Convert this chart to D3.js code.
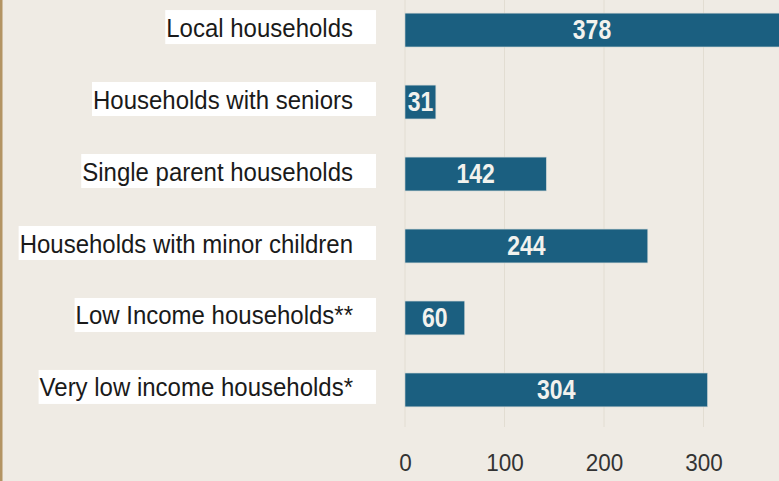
<!DOCTYPE html>
<html>
<head>
<meta charset="utf-8">
<script src="https://cdn.jsdelivr.net/npm/d3@7"></script>
<style>
  body { margin: 0; background: #efebe4; }
  svg { display: block; }
</style>
</head>
<body>
<div id="chart-area"></div>
<script>
// DATA
var categories = ["Local households", "Households with seniors", "Single parent households",
  "Households with minor children", "Low Income households**", "Very low income households*"];
var counts = [378, 31, 142, 244, 60, 304];
var tickValues = [0, 100, 200, 300];

var width = 779;
var height = 481;
var font = "'Liberation Sans', Arial, sans-serif";

var svg = d3.select("#chart-area")
    .append("svg")
    .attr("width", width)
    .attr("height", height);

svg.append("rect")
    .attr("width", width).attr("height", height)
    .attr("fill", "#efebe4");

// left border
svg.append("rect")
    .attr("x", 0).attr("y", 0)
    .attr("width", 2.5).attr("height", height)
    .attr("fill", "#b39463");

// SCALES
var x = d3.scaleLinear()
    .domain([0, 300])
    .range([405, 703.5]);

var y = d3.scaleBand()
    .domain(categories)
    .range([-25, 445])
    .padding(0.53);

// grid lines
svg.append("g").selectAll("line")
    .data(tickValues)
    .enter()
    .append("line")
    .attr("x1", (d) => x(d)).attr("x2", (d) => x(d))
    .attr("y1", 0).attr("y2", 427)
    .attr("stroke", "#e2ddd2")
    .attr("stroke-width", 1);

// AXIS
var bottomAxis = d3.axisBottom(x).tickValues(tickValues).tickSize(0).tickPadding(0);
var xAxisGroup = svg.append("g")
    .attr("transform", "translate(0, 449)")
    .call(bottomAxis);
xAxisGroup.select(".domain").remove();
xAxisGroup.selectAll("text")
    .attr("font-family", font)
    .attr("font-size", "22.5px")
    .attr("fill", "#333")
    .attr("dy", 0)
    .attr("transform", "translate(0, 22) scale(1, 1.1) translate(0, -22)")
    .attr("y", 22);

//---------RECTANGLES
svg.append("g").selectAll("rect")
    .data(counts)
    .enter()
    .append("rect")
    .attr("x", x(0))
    .attr("y", (d, i) => y(categories[i]))
    .attr("width", (d) => x(d) - x(0))
    .attr("height", y.bandwidth())
    .attr("fill", "#1b5f80")
    .attr("stroke", "#c9d3d3")
    .attr("stroke-width", 0.6);

// value labels
svg.append("g").selectAll("text")
    .data(counts)
    .enter()
    .append("text")
    .attr("transform", (d, i) => {
        var cx = (x(0) + Math.min(x(d), width)) / 2;
        var cy = y(categories[i]) + y.bandwidth() / 2 - 1;
        return "translate(" + cx + "," + cy + ") scale(1, 1.22)";
    })
    .attr("text-anchor", "middle")
    .attr("dy", "0.36em")
    .attr("font-family", font)
    .attr("font-weight", "bold")
    .attr("font-size", "23px")
    .attr("fill", "#f2f2ee")
    .text((d) => d);

// category labels with white boxes
var labels = svg.append("g").selectAll("g")
    .data(categories)
    .enter()
    .append("g")
    .attr("transform", (d) => "translate(0," + (y(d) + y.bandwidth() / 2 - 3) + ")");

var boxes = labels.append("rect")
    .attr("fill", "#ffffff");

var texts = labels.append("text")
    .attr("transform", "translate(353,0) scale(1, 1.1)")
    .attr("text-anchor", "end")
    .attr("dy", "0.36em")
    .attr("font-family", font)
    .attr("font-size", "24px")
    .attr("fill", "#1a1a1a")
    .text((d) => d);

texts.each(function (d, i) {
    var w = this.getComputedTextLength();
    d3.select(boxes.nodes()[i])
        .attr("x", 353 - w - 1)
        .attr("y", -17)
        .attr("width", 376 - (353 - w - 1))
        .attr("height", 34);
});
</script>
</body>
</html>
